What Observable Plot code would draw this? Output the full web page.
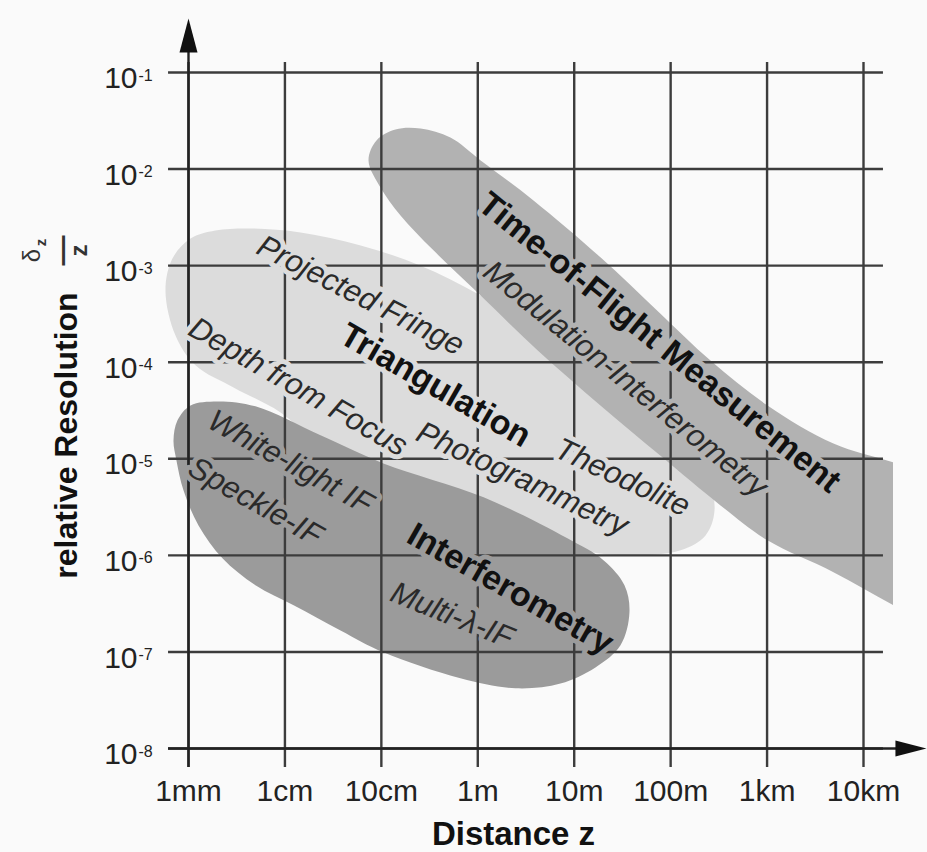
<!DOCTYPE html>
<html>
<head>
<meta charset="utf-8">
<script src="https://cdn.jsdelivr.net/npm/d3@7"></script>
<script src="https://cdn.jsdelivr.net/npm/@observablehq/plot@0.6"></script>
<style>
  html, body { margin: 0; padding: 0; background: #fafafa; }
  #chart svg { display: block; }
</style>
</head>
<body>
<div id="chart"></div>
<script>
// Distance axis: tick values in metres and their labels
const distTicks = [1e-3, 1e-2, 1e-1, 1, 10, 100, 1e3, 1e4];
const distLabels = ["1mm", "1cm", "10cm", "1m", "10m", "100m", "1km", "10km"];

// Relative resolution axis: tick values and the exponents printed after "10"
const resTicks = [1e-1, 1e-2, 1e-3, 1e-4, 1e-5, 1e-6, 1e-7, 1e-8];
const resExponents = ["-1", "-2", "-3", "-4", "-5", "-6", "-7", "-8"];

// Region outlines, as [distance (m), relative resolution] vertices
const triangulationOutline = [
  [5.77e-4, 5.54e-4], [6.83e-4, 1.19e-3], [1.05e-3, 1.91e-3], [1.9e-3, 2.31e-3],
  [4.4e-3, 2.43e-3], [1.45e-2, 2.21e-3], [6.1e-2, 1.62e-3], [0.255, 1.0e-3],
  [1.07, 4.9e-4], [5.7, 1.68e-4], [30, 4.5e-5], [127, 1.38e-5],
  [247, 6.0e-6], [285, 2.9e-6], [230, 1.61e-6], [127, 1.13e-6],
  [38, 1.0e-6], [11.6, 1.13e-6], [1.72, 2.0e-6], [0.158, 5.3e-6],
  [2.34e-2, 1.38e-5], [9.0e-3, 3.02e-5], [2.93e-3, 5.48e-5], [1.18e-3, 9.3e-5],
  [7.33e-4, 1.89e-4]
];
const interferometryOutline = [
  [6.99e-4, 1.55e-5], [7.69e-4, 2.5e-5], [1.05e-3, 3.57e-5], [2.0e-3, 3.93e-5],
  [4.95e-3, 3.49e-5], [2.34e-2, 1.75e-5], [0.105, 8.96e-6], [1.15, 3.99e-6],
  [8.5, 1.5e-6], [20.1, 8.9e-7], [33.2, 4.9e-7], [37.4, 2.57e-7],
  [30.2, 1.17e-7], [16.6, 6.9e-8], [7.2, 4.7e-8], [2.46, 4.2e-8],
  [0.66, 5.33e-8], [0.105, 9.9e-8], [3.77e-2, 1.67e-7], [1.23e-2, 3.04e-7],
  [4.95e-3, 4.89e-7], [2.25e-3, 9.31e-7], [1.27e-3, 2.04e-6], [8.87e-4, 4.71e-6],
  [7.5e-4, 9.6e-6]
];
const timeOfFlightOutline = [
  [7.36e-2, 1.23e-2], [8.9e-2, 1.98e-2], [0.14, 2.57e-2], [0.255, 2.63e-2],
  [0.52, 2.12e-2], [1.07, 1.23e-2], [3.78, 4.73e-3], [18.7, 1.22e-3],
  [78, 3.2e-4], [259, 1.04e-4], [1010, 3.57e-5], [4880, 1.44e-5],
  [2.05e4, 9.18e-6], [1.0e5, 5.6e-6], [1.0e5, 1.26e-7], [2.05e4, 3.04e-7],
  [4880, 6.7e-7], [1010, 1.43e-6], [329, 3.29e-6], [78, 1.08e-5],
  [18.7, 3.57e-5], [4.16, 1.33e-4], [1.07, 4.9e-4], [0.347, 1.44e-3],
  [0.158, 3.31e-3], [9.8e-2, 6.45e-3]
];

// Method names (bold) and technique names (italic), placed at [distance, resolution]
const methodNames = [
  { text: "Time-of-Flight Measurement", dist: 76.6, res: 1.6e-4, region: "tof" },
  { text: "Triangulation", dist: 0.364, res: 5.75e-5, region: "tri" },
  { text: "Interferometry", dist: 2.18, res: 4.5e-7, region: "ifm" }
];
const techniqueNames = [
  { text: "Modulation-Interferometry", dist: 34, res: 6.7e-5, region: "tof" },
  { text: "Projected Fringe", dist: 6.1e-2, res: 4.9e-4, region: "tri" },
  { text: "Depth from Focus", dist: 1.37e-2, res: 5.55e-5, region: "tri" },
  { text: "Photogrammetry", dist: 2.9, res: 6.2e-6, region: "tri" },
  { text: "Theodolite", dist: 31.7, res: 6.4e-6, region: "tri" },
  { text: "White-light IF", dist: 1.14e-2, res: 9.2e-6, region: "ifm" },
  { text: "Speckle-IF", dist: 4.95e-3, res: 3.6e-6, region: "ifm" },
  { text: "Multi-\u03bb-IF", dist: 0.54, res: 2.4e-7, region: "ifm" }
];

// Slant of each label along its region
const labelAngle = {
  "Time-of-Flight Measurement": 39, "Triangulation": 30, "Interferometry": 29.6,
  "Modulation-Interferometry": 39, "Projected Fringe": 27, "Depth from Focus": 30,
  "Photogrammetry": 25, "Theodolite": 25, "White-light IF": 29, "Speckle-IF": 29.5,
  "Multi-\u03bb-IF": 22
};

// Region fills
const regionFill = { tri: "#dcdcdc", ifm: "#9b9b9b", tof: "#b2b2b2" };
const gridColor = "#3c3c3c";
const font = "'Liberation Sans', Arial, Helvetica, sans-serif";

const toPoints = (outline) => outline.map(([dist, res]) => ({ dist, res }));

// Extents of the grid and axis lines
const gridX = [10 ** -3.207, 10 ** 4.207];
const gridY = [10 ** -8.197, 10 ** -0.896];
const yAxisTip = 10 ** -0.441;
const xAxisTip = 10 ** 4.653;

// Filled arrowheads with their tip at the anchor point
const arrowUp = { draw(ctx) { ctx.moveTo(0, 0); ctx.lineTo(9, 34); ctx.lineTo(-9, 34); ctx.closePath(); } };
const arrowRight = { draw(ctx) { ctx.moveTo(0, 0); ctx.lineTo(-31, -8); ctx.lineTo(-31, 8); ctx.closePath(); } };

const region = (outline, key, extra = {}) =>
  Plot.line(toPoints(outline), {
    x: "dist", y: "res", fill: regionFill[key], stroke: "none",
    curve: "catmull-rom-closed", ...extra
  });

// Text placed in the margin, positioned from the top-left corner
const marginText = (text, dx, dy, options) =>
  Plot.text([text], {
    frameAnchor: "top-left", textAnchor: "middle", lineAnchor: "middle",
    dx, dy, ...options
  });

const chart = Plot.plot({
  width: 927,
  height: 852,
  marginLeft: 0,
  marginRight: 34,
  marginTop: 0,
  marginBottom: 0,
  x: { type: "log", domain: [1e-3, 1e4], range: [188, 863], axis: null },
  y: { type: "log", domain: [1e-8, 1e-1], range: [748, 72], axis: null },
  style: { background: "#fafafa", fontFamily: font, overflow: "visible" },
  marks: [
    region(triangulationOutline, "tri"),
    region(interferometryOutline, "ifm"),
    region(timeOfFlightOutline, "tof", { clip: true }),

    // grid
    Plot.ruleY(resTicks, { x1: gridX[0], x2: gridX[1], stroke: gridColor, strokeWidth: 2.4 }),
    Plot.ruleX(distTicks, { y1: gridY[0], y2: gridY[1], stroke: gridColor, strokeWidth: 2.4 }),

    // axes with arrowheads
    Plot.ruleX([1e-3], { y1: gridY[0], y2: 10 ** -0.6, stroke: "#222", strokeWidth: 2.4 }),
    Plot.ruleY([1e-8], { x1: gridX[0], x2: 10 ** 4.5, stroke: "#222", strokeWidth: 2.4 }),
    Plot.dot([1e-3], { x: (d) => d, y: yAxisTip, symbol: arrowUp, fill: "#111", stroke: "none" }),
    Plot.dot([1e-8], { x: xAxisTip, y: (d) => d, symbol: arrowRight, fill: "#111", stroke: "none" }),

    // tick labels
    Plot.text(distTicks, {
      x: (d) => d, y: 1e-8, text: (d, i) => distLabels[i], dy: 43,
      fontSize: 30, fill: "#222", lineAnchor: "middle"
    }),
    Plot.text(resTicks, {
      x: 1e-3, y: (d) => d, text: () => "10", dx: -51, dy: 6,
      textAnchor: "end", fontSize: 30, fill: "#222", lineAnchor: "middle"
    }),
    Plot.text(resTicks, {
      x: 1e-3, y: (d) => d, text: (d, i) => resExponents[i], dx: -50, dy: 3,
      textAnchor: "start", fontSize: 16, fill: "#222", lineAnchor: "middle"
    }),

    // axis titles
    marginText("Distance z", 513, 834, { fontSize: 33, fontWeight: "bold", fill: "#111" }),
    marginText("relative Resolution", 66, 435, { rotate: -90, fontSize: 32, fontWeight: "bold", fill: "#111" }),
    marginText("\u03b4", 32, 255, { rotate: -90, fontSize: 24, fill: "#333" }),
    marginText("z", 41, 242, { rotate: -90, fontSize: 15, fontWeight: "bold", fill: "#333" }),
    marginText("\u2014", 62, 250, { rotate: -90, fontSize: 30, fontWeight: "bold", fill: "#333" }),
    marginText("z", 79, 250, { rotate: -90, fontSize: 24, fontWeight: "bold", fill: "#333" }),

    // region labels, with a halo in the region colour that interrupts the grid
    Plot.text(techniqueNames, {
      x: "dist", y: "res", text: "text", rotate: (d) => labelAngle[d.text],
      fontSize: 31, fontStyle: "italic", fill: "#2a2a2a",
      stroke: (d) => regionFill[d.region], strokeWidth: 10, lineAnchor: "middle"
    }),
    Plot.text(methodNames, {
      x: "dist", y: "res", text: "text", rotate: (d) => labelAngle[d.text],
      fontSize: 34, fontWeight: "bold", fill: "#111",
      stroke: (d) => regionFill[d.region], strokeWidth: 10, lineAnchor: "middle"
    })
  ]
});

document.getElementById("chart").appendChild(chart);
</script>
</body>
</html>
